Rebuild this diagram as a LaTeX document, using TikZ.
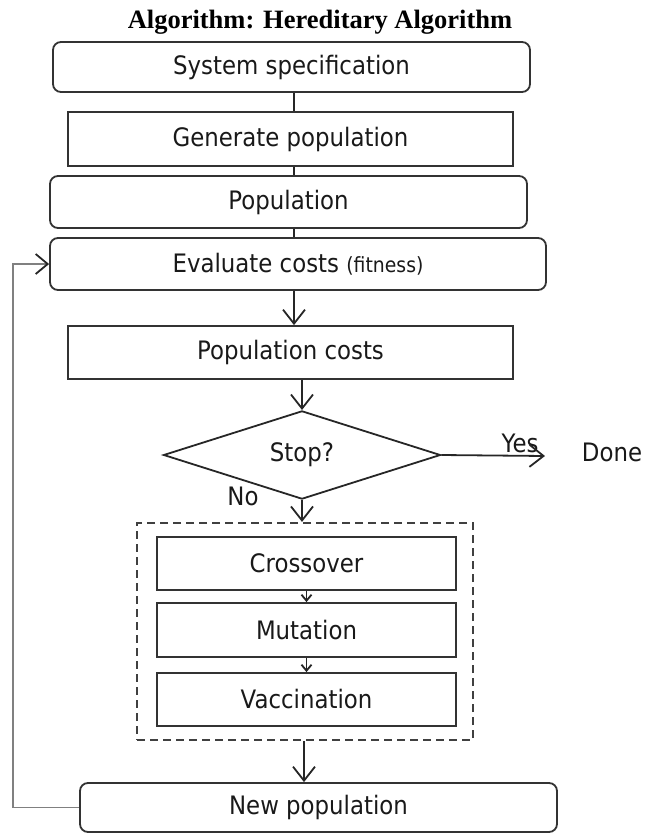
\documentclass[tikz,border=0pt]{standalone}
\usepackage{fontspec}
\setmainfont{DejaVu Sans}[FakeStretch=0.9]
\newfontfamily\titlefont{Liberation Serif}
\usetikzlibrary{arrows.meta,shapes.geometric,calc}
\begin{document}
\begin{tikzpicture}[x=1bp,y=-1bp,
  every node/.style={font=\fontsize{25.5}{30}\selectfont, text=black!90},
  sbox/.style={draw=black!80, line width=1.8bp, inner sep=0pt, rectangle},
  rbox/.style={sbox, rounded corners=8bp},
  plain/.style={draw=black!85, line width=1.8bp},
  arr/.style={plain, -{Straight Barb[length=14bp,width=22bp,line width=1.8bp]}},
  sarr/.style={plain, -{Straight Barb[length=6bp,width=10bp,line width=1.8bp]}},
  loopline/.style={draw=black!50, line width=1.2bp, -{Straight Barb[length=12bp,width=20bp,line width=1.8bp,color=black!85]}},
  grpbox/.style={draw=black!75, line width=2.2bp, dash pattern=on 8bp off 5bp, inner sep=0pt, rectangle}]
\useasboundingbox (0,0) rectangle (645,833);

\node[font=\titlefont\bfseries\fontsize{26.6}{30}\selectfont, text=black, anchor=base] (title) at (320,28) {Algorithm: Hereditary Algorithm};

\node[rbox, minimum width=477bp, minimum height=50bp] (sys) at (291.5,67) {System specification};
\node[sbox, minimum width=445bp, minimum height=54bp] (gen) at (290.5,139) {Generate population};
\node[rbox, minimum width=477bp, minimum height=52bp] (pop) at (288.5,202) {Population};
\node[rbox, minimum width=496bp, minimum height=52bp] (eval) at (298,264) {Evaluate costs {\fontsize{21}{24}\selectfont(fitness)}};
\node[sbox, minimum width=445bp, minimum height=53bp] (pcost) at (290.5,352.5) {Population costs};
\node[diamond, draw=black!85, line width=1.8bp, inner sep=0pt, minimum width=277bp, minimum height=86bp] (stop) at (302,455) {Stop?};

\node[grpbox, minimum width=336bp, minimum height=217bp] (grp) at (305,631.5) {};
\node[sbox, minimum width=299bp, minimum height=53bp] (cross) at (306.5,563.5) {Crossover};
\node[sbox, minimum width=299bp, minimum height=54bp] (mut) at (306.5,630) {Mutation};
\node[sbox, minimum width=299bp, minimum height=53bp] (vac) at (306.5,699.5) {Vaccination};

\node[rbox, minimum width=477bp, minimum height=49bp] (newpop) at (318.5,807.5) {New population};

\node (done) at (612,452) {Done};
\node (yes) at (520,443) {Yes};
\node (no) at (243,496) {No};

\coordinate (spine) at (294,0);
\coordinate (spinelow) at (304,0);
\coordinate (loopx) at (13,0);
\coordinate (yesend) at (545,456);

\draw[plain] (sys.south -| spine) -- (gen.north -| spine);
\draw[plain] (gen.south -| spine) -- (pop.north -| spine);
\draw[plain] (pop.south -| spine) -- (eval.north -| spine);
\draw[arr] (eval.south -| spine) -- (pcost.north -| spine);
\draw[arr] (pcost.south -| stop.north) -- (stop.north);
\draw[arr] (stop.east) -- (yesend);
\draw[arr] (stop.south) -- (grp.north -| stop.south);
\draw[sarr] (cross.south) -- (mut.north);
\draw[sarr] (mut.south) -- (vac.north);
\draw[arr] (grp.south -| spinelow) -- (newpop.north -| spinelow);
\draw[loopline] (newpop.west) -- (newpop.west -| loopx) -- (eval.west -| loopx) -- (eval.west);
\end{tikzpicture}
\end{document}
